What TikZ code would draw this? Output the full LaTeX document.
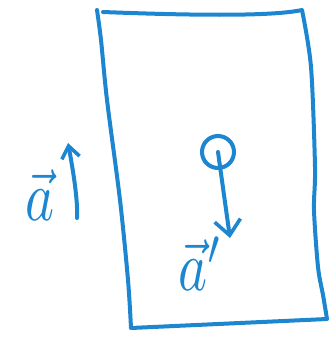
\documentclass[tikz,border=0pt]{standalone}
\usepackage{graphicx}
\usetikzlibrary{arrows.meta}
\definecolor{pen}{RGB}{28,134,208}
\begin{document}
\begin{tikzpicture}[x=1pt,y=-1pt,
  stroke/.style={draw=pen,line width=4pt,line cap=round,line join=round},
  lbl/.style={text=pen,inner sep=0pt},
  tip/.style={-{Straight Barb[length=15pt,width=26pt,line width=3.6pt]}}]
\useasboundingbox (0,0) rectangle (331,340);
% frame
\draw[stroke] plot[smooth,tension=0.5] coordinates {(97,10) (101,40) (107,100) (120,200) (128,280) (131,328)}
  -- (327,319)
  plot[smooth,tension=0.5] coordinates {(327,319) (323,295) (318,267) (314,210) (315,167) (311,67) (302,10)}
  .. controls (270,17) and (180,15) .. (103,12);
% ball
\node[stroke,circle,minimum size=32pt,inner sep=0pt] (ball) at (218,152) {};
\coordinate (bend) at (230,238);
\draw[stroke,tip] (ball.center) -- (bend);
\node[lbl] (aprime) at (201,264) {\scalebox{5.5}[7.1]{$\vec{a}'$}};
% left arrow
\coordinate (lbot) at (77,218);
\coordinate (ltop) at (68,143);
\draw[stroke,-{Straight Barb[length=12pt,width=18pt,line width=3.6pt]}] (lbot) .. controls (78,200) and (73,170) .. (ltop);
\node[lbl] (a) at (40,195) {\scalebox{5.5}[7.1]{$\vec{a}$}};
\end{tikzpicture}
\end{document}
